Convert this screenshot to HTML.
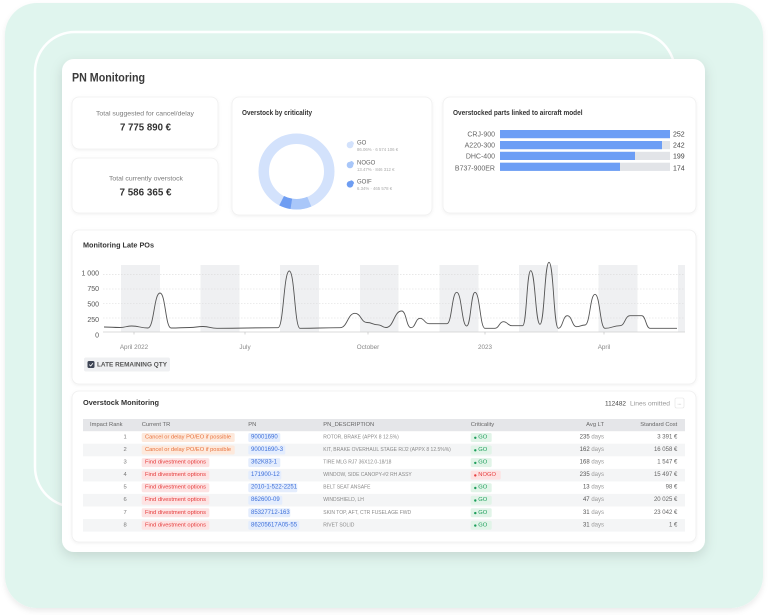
<!DOCTYPE html>
<html><head><meta charset="utf-8"><style>
html,body{margin:0;padding:0;background:#fff;width:768px;height:615px;overflow:hidden}
svg{display:block}
</style></head><body>
<svg width="768" height="615" viewBox="0 0 768 615" xmlns="http://www.w3.org/2000/svg" font-family="Liberation Sans, Arial, sans-serif">
<defs>
<filter id="sh0" x="-10%" y="-10%" width="120%" height="120%"><feDropShadow dx="0" dy="3" stdDeviation="3" flood-color="#000" flood-opacity="0.08"/></filter>
<filter id="sh1" x="-10%" y="-10%" width="120%" height="125%"><feDropShadow dx="0" dy="4" stdDeviation="6" flood-color="#000" flood-opacity="0.13"/></filter>
<filter id="sh2" x="-10%" y="-10%" width="120%" height="130%"><feDropShadow dx="0" dy="1" stdDeviation="1.5" flood-color="#000" flood-opacity="0.06"/></filter>
<clipPath id="plot"><rect x="103" y="260" width="582" height="80"/></clipPath>
</defs>

<!-- mint background -->
<rect x="5" y="3" width="758" height="605" rx="32" fill="#e0f5ee" filter="url(#sh0)"/>
<!-- white ring -->
<rect x="35" y="32" width="640" height="475" rx="40" fill="none" stroke="#ffffff" stroke-width="2.5" opacity="0.95"/>

<!-- main card -->
<rect x="62" y="59" width="643" height="493" rx="12" fill="#ffffff" filter="url(#sh1)"/>
<text x="72" y="81.5" font-size="12" font-weight="bold" fill="#3a3a3a" textLength="73" lengthAdjust="spacingAndGlyphs">PN Monitoring</text>

<!-- KPI cards -->
<rect x="72" y="97" width="146" height="52" rx="7" fill="#fff" stroke="#f0f0f0" stroke-width="0.8" filter="url(#sh2)"/>
<text x="145" y="115.5" font-size="6.5" fill="#7a7a7a" text-anchor="middle" textLength="98" lengthAdjust="spacingAndGlyphs">Total suggested for cancel/delay</text>
<text x="145.5" y="130.5" font-size="10" font-weight="bold" fill="#333" text-anchor="middle" textLength="51" lengthAdjust="spacingAndGlyphs">7 775 890 €</text>

<rect x="72" y="158" width="146" height="55" rx="7" fill="#fff" stroke="#f0f0f0" stroke-width="0.8" filter="url(#sh2)"/>
<text x="146" y="180.5" font-size="6.5" fill="#7a7a7a" text-anchor="middle" textLength="74" lengthAdjust="spacingAndGlyphs">Total currently overstock</text>
<text x="145.5" y="195.3" font-size="10" font-weight="bold" fill="#333" text-anchor="middle" textLength="52" lengthAdjust="spacingAndGlyphs">7 586 365 €</text>

<!-- Donut card -->
<rect x="232" y="97" width="200" height="118" rx="7" fill="#fff" stroke="#f0f0f0" stroke-width="0.8" filter="url(#sh2)"/>
<text x="242" y="115" font-size="7" font-weight="bold" fill="#333" textLength="70" lengthAdjust="spacingAndGlyphs">Overstock by criticality</text>
<circle cx="296.5" cy="171.5" r="32.75" fill="none" stroke="#d3e2fc" stroke-width="10.5"/>
<path d="M311.35 206.48 A38 38 0 0 1 290.56 209.03 L292.2 198.66 A27.5 27.5 0 0 0 307.24 196.81 Z" fill="#a9c7f9"/>
<path d="M290.56 209.03 A38.5 38.5 0 0 1 279.25 205.36 L284.01 196.0 A27.5 27.5 0 0 0 292.2 198.66 Z" fill="#6e9df2"/>
<!-- legend -->
<g>
<circle cx="350" cy="145" r="3.3" fill="#d3e2fc"/><path d="M350.6 144.4 L350.6 140.9 A3.5 3.5 0 0 1 354.1 144.4 Z" fill="#d3e2fc"/>
<text x="357" y="144.3" font-size="6" fill="#666">GO</text>
<text x="357" y="151" font-size="4.3" fill="#aaa">86.06% · 6 574 106 €</text>
<circle cx="350" cy="165" r="3.3" fill="#a9c7f9"/><path d="M350.6 164.4 L350.6 160.9 A3.5 3.5 0 0 1 354.1 164.4 Z" fill="#a9c7f9"/>
<text x="357" y="164.5" font-size="6" fill="#666">NOGO</text>
<text x="357" y="171" font-size="4.3" fill="#aaa">13.47% · 846 312 €</text>
<circle cx="350" cy="184.3" r="3.3" fill="#6e9df2"/><path d="M350.6 183.7 L350.6 180.2 A3.5 3.5 0 0 1 354.1 183.7 Z" fill="#6e9df2"/>
<text x="357" y="183.5" font-size="6" fill="#666">GOIF</text>
<text x="357" y="190" font-size="4.3" fill="#aaa">6.34% · 465 578 €</text>
</g>

<!-- Bar card -->
<rect x="443" y="97" width="253" height="116" rx="7" fill="#fff" stroke="#f0f0f0" stroke-width="0.8" filter="url(#sh2)"/>
<text x="453" y="115" font-size="7" font-weight="bold" fill="#333" textLength="129.5" lengthAdjust="spacingAndGlyphs">Overstocked parts linked to aircraft model</text>
<g font-size="7" fill="#666">
<rect x="500" y="130" width="170" height="8.2" fill="#e2e4e8"/><rect x="500" y="130" width="170" height="8.2" fill="#6d9ef5"/>
<text x="495" y="136.7" text-anchor="end">CRJ-900</text><text x="673" y="136.7" fill="#444">252</text>
<rect x="500" y="141" width="170" height="8.2" fill="#e2e4e8"/><rect x="500" y="141" width="162" height="8.2" fill="#6d9ef5"/>
<text x="495" y="147.6" text-anchor="end">A220-300</text><text x="673" y="147.6" fill="#444">242</text>
<rect x="500" y="151.8" width="170" height="8.2" fill="#e2e4e8"/><rect x="500" y="151.8" width="135" height="8.2" fill="#6d9ef5"/>
<text x="495" y="158.4" text-anchor="end">DHC-400</text><text x="673" y="158.4" fill="#444">199</text>
<rect x="500" y="162.7" width="170" height="8.2" fill="#e2e4e8"/><rect x="500" y="162.7" width="120" height="8.2" fill="#6d9ef5"/>
<text x="495" y="170.5" text-anchor="end">B737-900ER</text><text x="673" y="170.5" fill="#444">174</text>
</g>

<!-- Line chart card -->
<rect x="72" y="230" width="624" height="154" rx="7" fill="#fff" stroke="#efefef" stroke-width="0.8" filter="url(#sh2)"/>
<text x="83" y="247.5" font-size="7" font-weight="bold" fill="#333" textLength="71" lengthAdjust="spacingAndGlyphs">Monitoring Late POs</text>
<g clip-path="url(#plot)" fill="#eff0f2">
<rect x="121" y="265" width="39" height="67"/>
<rect x="200.5" y="265" width="39" height="67"/>
<rect x="280" y="265" width="39" height="67"/>
<rect x="360" y="265" width="38.5" height="67"/>
<rect x="439.5" y="265" width="39" height="67"/>
<rect x="519" y="265" width="39" height="67"/>
<rect x="598.5" y="265" width="39" height="67"/>
<rect x="678" y="265" width="39" height="67"/>
</g>
<g stroke="#dadada" stroke-width="0.6" stroke-dasharray="1.5 1.5">
<line x1="103" y1="274.3" x2="685" y2="274.3"/>
<line x1="103" y1="289" x2="685" y2="289"/>
<line x1="103" y1="303.5" x2="685" y2="303.5"/>
<line x1="103" y1="318" x2="685" y2="318"/>
</g>
<line x1="103" y1="332" x2="685" y2="332" stroke="#cfcfcf" stroke-width="0.8"/>
<g stroke="#bbb" stroke-width="0.6">
<line x1="134" y1="332" x2="134" y2="334.5"/><line x1="245" y1="332" x2="245" y2="334.5"/>
<line x1="368" y1="332" x2="368" y2="334.5"/><line x1="485" y1="332" x2="485" y2="334.5"/>
<line x1="604" y1="332" x2="604" y2="334.5"/>
</g>
<g font-size="7" fill="#555" text-anchor="end">
<text x="99" y="275.5">1 000</text>
<text x="99" y="291">750</text>
<text x="99" y="306.5">500</text>
<text x="99" y="322">250</text>
<text x="99" y="337.5">0</text>
</g>
<g font-size="6.3" fill="#888" text-anchor="middle">
<text x="134" y="349">April 2022</text>
<text x="245" y="349">July</text>
<text x="368" y="349">October</text>
<text x="485" y="349">2023</text>
<text x="604" y="349">April</text>
</g>
<path fill="none" stroke="#555" stroke-width="0.9" stroke-linejoin="round" d="M104 327 C112 327 112 327.5 120 327.5 C125.85 327.5 125.85 326 131.7 326 C139.85 326 139.85 328 148 328 C154 328 154 293 160 293 C165.5 293 165.5 328 171 328 C180.5 328 180.5 327.5 190 327.5 C196.5 327.5 196.5 326.5 203 326.5 C210 326.5 210 328.3 217 328.3 C247.5 328.3 247.5 327.7 278 327.7 C283.65 327.7 283.65 271 289.3 271 C294.65 271 294.65 328.3 300 328.3 C320 328.3 320 327.7 340 327.7 C347.5 327.7 347.5 313.3 355 313.3 C361 313.3 361 322.5 367 322.5 C372.5 322.5 372.5 324.8 378 324.8 C382 324.8 382 327.5 386 327.5 C393.85 327.5 393.85 311 401.7 311 C406.35 311 406.35 327.7 411 327.7 C415.5 327.7 415.5 318.3 420 318.3 C424.5 318.3 424.5 323.7 429 323.7 L447 323.7 C451.85 323.7 451.85 292.3 456.7 292.3 C461.7 292.3 461.7 326 466.7 326 C470.85 326 470.85 292.3 475 292.3 C480 292.3 480 328.3 485 328.3 L495 328.3 C499.15 328.3 499.15 321.7 503.3 321.7 C507.65 321.7 507.65 325.7 512 325.7 L522.7 325.7 C526.7 325.7 526.7 270.7 530.7 270.7 C535.35 270.7 535.35 324.3 540 324.3 C544.5 324.3 544.5 262.3 549 262.3 C553.65 262.3 553.65 328.3 558.3 328.3 C562.8 328.3 562.8 315.7 567.3 315.7 C572 315.7 572 326.7 576.7 326.7 C580.85 326.7 580.85 325 585 325 C590 325 590 294.3 595 294.3 C600 294.3 600 328.3 605 328.3 C612.5 328.3 612.5 325.7 620 325.7 C625 325.7 625 315.7 630 315.7 L641.7 315.7 C645.85 315.7 645.85 328.3 650 328.3 L677 328.3"/>
<!-- legend chip -->
<rect x="84" y="357.5" width="86" height="14" rx="2" fill="#eff0f2"/>
<rect x="87.5" y="361" width="7" height="7" rx="1.5" fill="#3d4454"/>
<path d="M89.3 364.6 L90.7 366 L92.9 363.2" fill="none" stroke="#fff" stroke-width="0.8"/>
<text x="97" y="366.7" font-size="6" font-weight="bold" fill="#555" textLength="70" lengthAdjust="spacingAndGlyphs">LATE REMAINING QTY</text>

<!-- Table card -->
<rect x="72" y="391" width="624" height="151" rx="7" fill="#fff" stroke="#efefef" stroke-width="0.8" filter="url(#sh2)"/>
<text x="83" y="405" font-size="7.5" font-weight="bold" fill="#333" textLength="76" lengthAdjust="spacingAndGlyphs">Overstock Monitoring</text>
<text x="605" y="405.3" font-size="6.5" fill="#444" textLength="21" lengthAdjust="spacingAndGlyphs">112482</text>
<text x="630" y="405.3" font-size="6.5" fill="#999" textLength="40" lengthAdjust="spacingAndGlyphs">Lines omitted</text>
<rect x="675" y="398" width="9" height="10" rx="1.5" fill="#fff" stroke="#e3e3e3" stroke-width="0.6"/>
<text x="679.5" y="404.5" font-size="5" fill="#999" text-anchor="middle">...</text>

<rect x="83" y="419" width="602" height="12.2" fill="#e5e6e9"/>
<g font-size="5.8" fill="#666" dominant-baseline="central">
<text x="90" y="425.1">Impact Rank</text>
<text x="141.7" y="425.1">Current TR</text>
<text x="248.3" y="425.1">PN</text>
<text x="323.3" y="425.1">PN_DESCRIPTION</text>
<text x="470.7" y="425.1">Criticality</text>
<text x="604" y="425.1" text-anchor="end">Avg LT</text>
<text x="677.3" y="425.1" text-anchor="end">Standard Cost</text>
</g>
<!-- zebra -->
<g fill="#f4f5f6">
<rect x="83" y="443.75" width="602" height="12.55"/>
<rect x="83" y="468.85" width="602" height="12.55"/>
<rect x="83" y="493.95" width="602" height="12.55"/>
<rect x="83" y="519.05" width="602" height="12.55"/>
</g>

<g font-size="5.8" dominant-baseline="central">
<!-- row template values: centers 437.5 450 462.6 475.1 487.7 500.2 512.8 525.3 -->
<!-- ranks -->
<g fill="#777" text-anchor="end">
<text x="126.7" y="437.5">1</text><text x="126.7" y="450">2</text><text x="126.7" y="462.6">3</text><text x="126.7" y="475.1">4</text>
<text x="126.7" y="487.7">5</text><text x="126.7" y="500.2">6</text><text x="126.7" y="512.8">7</text><text x="126.7" y="525.3">8</text>
</g>
<!-- Current TR badges -->
<rect x="141.7" y="433" width="93" height="9" rx="1.5" fill="#fde9dc"/>
<text x="145" y="437.5" fill="#e8703a" textLength="86" lengthAdjust="spacingAndGlyphs">Cancel or delay PO/EO if possible</text>
<rect x="141.7" y="445.5" width="93" height="9" rx="1.5" fill="#fde9dc"/>
<text x="145" y="450" fill="#e8703a" textLength="86" lengthAdjust="spacingAndGlyphs">Cancel or delay PO/EO if possible</text>
<g fill="#fde3e3">
<rect x="141.7" y="458.1" width="67.6" height="9" rx="1.5"/>
<rect x="141.7" y="470.6" width="67.6" height="9" rx="1.5"/>
<rect x="141.7" y="483.2" width="67.6" height="9" rx="1.5"/>
<rect x="141.7" y="495.7" width="67.6" height="9" rx="1.5"/>
<rect x="141.7" y="508.3" width="67.6" height="9" rx="1.5"/>
<rect x="141.7" y="520.8" width="67.6" height="9" rx="1.5"/>
</g>
<g fill="#e53b3b">
<text x="145" y="462.6" textLength="61" lengthAdjust="spacingAndGlyphs">Find divestment options</text>
<text x="145" y="475.1" textLength="61" lengthAdjust="spacingAndGlyphs">Find divestment options</text>
<text x="145" y="487.7" textLength="61" lengthAdjust="spacingAndGlyphs">Find divestment options</text>
<text x="145" y="500.2" textLength="61" lengthAdjust="spacingAndGlyphs">Find divestment options</text>
<text x="145" y="512.8" textLength="61" lengthAdjust="spacingAndGlyphs">Find divestment options</text>
<text x="145" y="525.3" textLength="61" lengthAdjust="spacingAndGlyphs">Find divestment options</text>
</g>
<!-- PN badges -->
<g fill="#e4edfd">
<rect x="248.3" y="433" width="32" height="9" rx="1.5"/>
<rect x="248.3" y="445.5" width="37" height="9" rx="1.5"/>
<rect x="248.3" y="458.1" width="32" height="9" rx="1.5"/>
<rect x="248.3" y="470.6" width="33" height="9" rx="1.5"/>
<rect x="248.3" y="483.2" width="49" height="9" rx="1.5"/>
<rect x="248.3" y="495.7" width="34" height="9" rx="1.5"/>
<rect x="248.3" y="508.3" width="42" height="9" rx="1.5"/>
<rect x="248.3" y="520.8" width="51" height="9" rx="1.5"/>
</g>
<g fill="#3d6fd9" font-size="6">
<text x="251" y="437.5">90001690</text>
<text x="251" y="450">90001690-3</text>
<text x="251" y="462.6">362K83-1</text>
<text x="251" y="475.1">171900-12</text>
<text x="251" y="487.7">2010-1-522-2251</text>
<text x="251" y="500.2">862600-09</text>
<text x="251" y="512.8">85327712-163</text>
<text x="251" y="525.3">86205617A05-55</text>
</g>
<!-- descriptions -->
<g fill="#8a8a8a" font-size="5">
<text x="323.3" y="437.5">ROTOR, BRAKE (APPX 8 12.5%)</text>
<text x="323.3" y="450">KIT, BRAKE OVERHAUL STAGE R/J2 (APPX 8 12.5%%)</text>
<text x="323.3" y="462.6">TIRE MLG RJ7 36X12.0-18/18</text>
<text x="323.3" y="475.1">WINDOW, SIDE CANOPY-#2 RH ASSY</text>
<text x="323.3" y="487.7">BELT SEAT ANSAFE</text>
<text x="323.3" y="500.2">WINDSHIELD, LH</text>
<text x="323.3" y="512.8">SKIN TOP, AFT, CTR FUSELAGE FWD</text>
<text x="323.3" y="525.3">RIVET SOLID</text>
</g>
<!-- criticality -->
<g fill="#e1f4e8">
<rect x="470.7" y="433" width="21" height="9" rx="1.5"/>
<rect x="470.7" y="445.5" width="21" height="9" rx="1.5"/>
<rect x="470.7" y="458.1" width="21" height="9" rx="1.5"/>
<rect x="470.7" y="483.2" width="21" height="9" rx="1.5"/>
<rect x="470.7" y="495.7" width="21" height="9" rx="1.5"/>
<rect x="470.7" y="508.3" width="21" height="9" rx="1.5"/>
<rect x="470.7" y="520.8" width="21" height="9" rx="1.5"/>
</g>
<rect x="470.7" y="470.6" width="30" height="9" rx="1.5" fill="#fde2e2"/>
<g fill="#1c9d5a">
<circle cx="475.3" cy="437.8" r="1.2"/><circle cx="475.3" cy="450.3" r="1.2"/><circle cx="475.3" cy="462.9" r="1.2"/>
<circle cx="475.3" cy="488" r="1.2"/><circle cx="475.3" cy="500.5" r="1.2"/><circle cx="475.3" cy="513.1" r="1.2"/><circle cx="475.3" cy="525.6" r="1.2"/>
<text x="478.3" y="437.5">GO</text><text x="478.3" y="450">GO</text><text x="478.3" y="462.6">GO</text>
<text x="478.3" y="487.7">GO</text><text x="478.3" y="500.2">GO</text><text x="478.3" y="512.8">GO</text><text x="478.3" y="525.3">GO</text>
</g>
<circle cx="475.3" cy="475.4" r="1.2" fill="#e53e3e"/>
<text x="478.3" y="475.1" fill="#e53e3e">NOGO</text>
<!-- Avg LT -->
<g text-anchor="end" font-size="6">
<text x="604" y="437.5"><tspan fill="#555">235</tspan><tspan fill="#9a9a9a"> days</tspan></text>
<text x="604" y="450"><tspan fill="#555">162</tspan><tspan fill="#9a9a9a"> days</tspan></text>
<text x="604" y="462.6"><tspan fill="#555">168</tspan><tspan fill="#9a9a9a"> days</tspan></text>
<text x="604" y="475.1"><tspan fill="#555">235</tspan><tspan fill="#9a9a9a"> days</tspan></text>
<text x="604" y="487.7"><tspan fill="#555">13</tspan><tspan fill="#9a9a9a"> days</tspan></text>
<text x="604" y="500.2"><tspan fill="#555">47</tspan><tspan fill="#9a9a9a"> days</tspan></text>
<text x="604" y="512.8"><tspan fill="#555">31</tspan><tspan fill="#9a9a9a"> days</tspan></text>
<text x="604" y="525.3"><tspan fill="#555">31</tspan><tspan fill="#9a9a9a"> days</tspan></text>
</g>
<!-- cost -->
<g text-anchor="end" font-size="6" fill="#666">
<text x="677.3" y="437.5">3 391 €</text>
<text x="677.3" y="450">16 058 €</text>
<text x="677.3" y="462.6">1 547 €</text>
<text x="677.3" y="475.1">15 497 €</text>
<text x="677.3" y="487.7">98 €</text>
<text x="677.3" y="500.2">20 025 €</text>
<text x="677.3" y="512.8">23 042 €</text>
<text x="677.3" y="525.3">1 €</text>
</g>
</g>
</svg>
</body></html>
